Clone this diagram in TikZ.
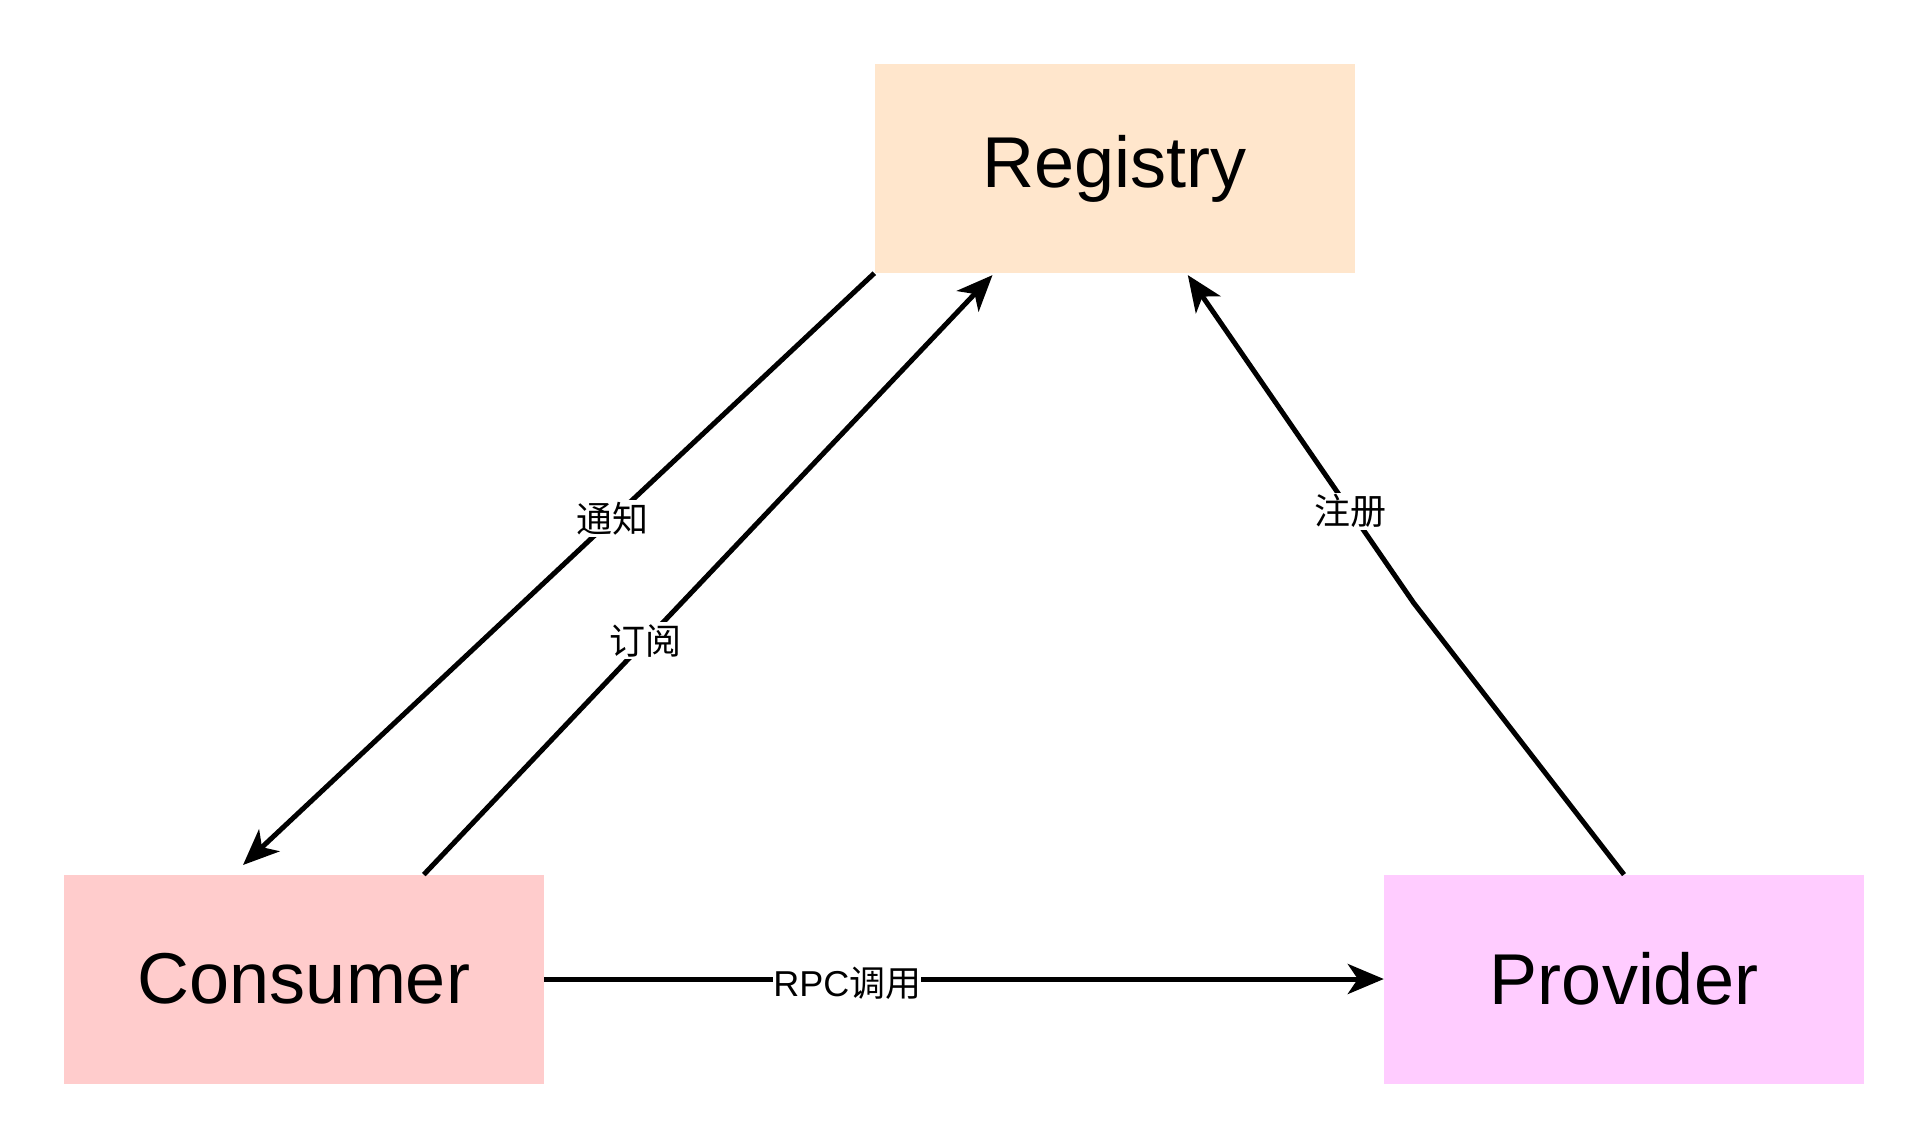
\documentclass[tikz,border=0pt]{standalone}
\usepackage{fontspec}
\setmainfont{Liberation Sans}
\newfontfamily\cjk{Noto Sans CJK SC}
\usetikzlibrary{arrows.meta}
\definecolor{regfill}{HTML}{FFE6CC}
\definecolor{confill}{HTML}{FFCCCC}
\definecolor{profill}{HTML}{FFCCFF}
\tikzset{
  box/.style={minimum width=480pt, minimum height=209pt, inner sep=0pt, font=\fontsize{72}{80}\selectfont},
  conn/.style={line width=5pt, -{Stealth[length=36pt, width=30pt, inset=10pt]}},
  lbl/.style={fill=white, inner sep=2pt, font=\fontsize{36}{40}\selectfont},
}
\begin{document}
\begin{tikzpicture}[x=1pt, y=-1pt]
\useasboundingbox (0,0) rectangle (1926,1146);
\node[box, fill=regfill] (reg) at (1114.5,168.5) {Registry};
\node[box, fill=confill] (con) at (304,979) {Consumer};
\node[box, fill=profill] (pro) at (1624,979) {Provider};
\coordinate (notifytip) at (243,865);
\coordinate (subsrc) at (423.8,874.6);
\coordinate (subtip) at (992.5,275.1);
\coordinate (regsrc) at (1624,874.6);
\coordinate (regbend) at (1413.8,603.1);
\coordinate (regtip) at (1187.8,275.1);
\draw[conn] (reg.south west) -- node[lbl, pos=0.415] {\cjk 通知} (notifytip);
\draw[conn] (subsrc) -- node[lbl, pos=0.39] {\cjk 订阅} (subtip);
\draw[conn] (regsrc) -- (regbend) -- node[lbl, pos=0.28] {\cjk 注册} (regtip);
\draw[conn] (con.east) -- node[lbl, pos=0.361, inner sep=0pt, yshift=-4pt] {RPC{\cjk 调用}} (pro.west);
\end{tikzpicture}
\end{document}
